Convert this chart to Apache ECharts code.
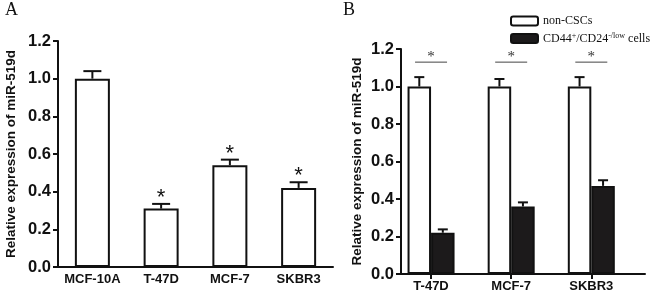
<!DOCTYPE html>
<html>
<head>
<meta charset="utf-8">
<script src="https://cdn.jsdelivr.net/npm/echarts@6/dist/echarts.min.js"></script>
<style>
  html, body { margin: 0; padding: 0; background: #fff; }
  #chart { width: 650px; height: 297px; }
</style>
</head>
<body>
<div id="chart"></div>
<script>
// panel A
const catA = ['MCF-10A', 'T-47D', 'MCF-7', 'SKBR3'];
const meanA = [1.00, 0.31, 0.54, 0.42];
const errA = [0.04, 0.025, 0.03, 0.03];
const starA = [0, 1, 1, 1];
// panel B
const catB = ['T-47D', 'MCF-7', 'SKBR3'];
const posB = [1, 2, 3];
const nonCSC = [1.00, 1.00, 1.00];
const nonCSCErr = [0.05, 0.04, 0.05];
const cd44 = [0.22, 0.36, 0.47];
const cd44Err = [0.018, 0.022, 0.03];
const sigB = [1.13, 1.13, 1.13];

const chart = echarts.init(document.getElementById('chart'));
const sans = 'Liberation Sans, Arial, sans-serif';
const serif = 'Liberation Serif, Times New Roman, serif';

// error bar (+ optional star) drawn on top of a bar
function errRender(offset, capHalf) {
  return function (params, api) {
    const x = api.value(0), v = api.value(1), e = api.value(2), star = api.value(3);
    const p0 = api.coord([x, v]);
    const p1 = api.coord([x, v + e]);
    const cx = p0[0] + offset;
    const kids = [
      { type: 'line', shape: { x1: cx, y1: p0[1], x2: cx, y2: p1[1] }, style: { stroke: '#111', lineWidth: 2 } },
      { type: 'line', shape: { x1: cx - capHalf, y1: p1[1], x2: cx + capHalf, y2: p1[1] }, style: { stroke: '#111', lineWidth: 2 } }
    ];
    if (star) {
      kids.push({ type: 'text', x: cx, y: p1[1] - 17,
        style: { text: '*', fontSize: 22, fontFamily: sans, fill: '#111', align: 'center', verticalAlign: 'top' } });
    }
    return { type: 'group', children: kids };
  };
}

function sigRender(params, api) {
  const p = api.coord([api.value(0), api.value(1)]);
  return { type: 'group', children: [
    { type: 'line', shape: { x1: p[0] - 16, y1: p[1], x2: p[0] + 16, y2: p[1] }, style: { stroke: '#444', lineWidth: 1 } },
    { type: 'text', x: p[0], y: p[1] - 13,
      style: { text: '*', fontSize: 15, fontFamily: serif, fill: '#333', align: 'center', verticalAlign: 'top' } }
  ] };
}

const yAxisCommon = {
  type: 'value', min: 0, max: 1.2, interval: 0.2,
  name: 'Relative expression of miR-519d', nameLocation: 'middle', nameRotate: 90,
  nameTextStyle: { fontFamily: sans, fontWeight: 'bold', fontSize: 13.5, color: '#111' },
  axisLine: { show: true, lineStyle: { color: '#111', width: 2 } },
  axisTick: { show: true, length: 5, lineStyle: { color: '#111', width: 2 } },
  axisLabel: { fontFamily: sans, fontWeight: 'bold', fontSize: 16.5, color: '#111', margin: 7,
    formatter: v => v.toFixed(1) },
  splitLine: { show: false }
};

const option = {
  backgroundColor: '#fff',
  animation: false,
  graphic: [
    { type: 'text', left: 5, top: 1, style: { text: 'A', fontFamily: serif, fontSize: 18, fill: '#111' } },
    { type: 'text', left: 343, top: 1, style: { text: 'B', fontFamily: serif, fontSize: 18, fill: '#111' } }
  ],
  legend: {
    orient: 'vertical', left: 505, top: 10, itemWidth: 27, itemHeight: 9, itemGap: 5,
    data: ['non-CSCs', 'CD44'],
    textStyle: { fontFamily: serif, fontSize: 12, color: '#111',
      rich: {
        n: { fontFamily: serif, fontSize: 12, color: '#111', lineHeight: 13 },
        s: { fontFamily: serif, fontSize: 8, color: '#111', verticalAlign: 'top', lineHeight: 13 }
      } },
    formatter: name => name === 'CD44'
      ? '{n|CD44}{s|+}{n|/CD24}{s|-/low}{n| cells}'
      : '{n|' + name + '}'
  },
  grid: [
    { left: 58, right: 317, top: 41, bottom: 30, outerBoundsMode: 'none' },
    { left: 401, right: 5, top: 49, bottom: 23, outerBoundsMode: 'none' }
  ],
  xAxis: [
    { type: 'category', gridIndex: 0, data: catA,
      axisLine: { lineStyle: { color: '#111', width: 2 } },
      axisTick: { alignWithLabel: true, length: 5, lineStyle: { color: '#111', width: 2 } },
      axisLabel: { interval: 0, fontFamily: sans, fontWeight: 'bold', fontSize: 13, color: '#111', margin: 6 } },
    { type: 'value', gridIndex: 1, min: 0.625, max: 3.67,
      axisLine: { lineStyle: { color: '#111', width: 2 } },
      axisTick: { customValues: posB, length: 5, lineStyle: { color: '#111', width: 2 } },
      axisLabel: { customValues: posB, fontFamily: sans, fontWeight: 'bold', fontSize: 13, color: '#111', margin: 6,
        formatter: v => catB[Math.round(v) - 1] },
      splitLine: { show: false } }
  ],
  yAxis: [
    Object.assign({ gridIndex: 0, nameGap: 40 }, yAxisCommon),
    Object.assign({ gridIndex: 1, nameGap: 37 }, yAxisCommon)
  ],
  series: [
    { type: 'bar', xAxisIndex: 0, yAxisIndex: 0, data: meanA, barWidth: 35,
      itemStyle: { color: '#fff', borderColor: '#111', borderWidth: 2 } },
    { type: 'custom', xAxisIndex: 0, yAxisIndex: 0,
      data: meanA.map((m, i) => [i, m, errA[i], starA[i]]),
      renderItem: errRender(0, 9) },
    { name: 'non-CSCs', type: 'bar', xAxisIndex: 1, yAxisIndex: 1, barWidth: 23.5, barGap: '0%',
      data: posB.map((x, i) => [x, nonCSC[i]]),
      itemStyle: { color: '#fff', borderColor: '#111', borderWidth: 2 } },
    { name: 'CD44', type: 'bar', xAxisIndex: 1, yAxisIndex: 1, barWidth: 23.5, barGap: '0%',
      data: posB.map((x, i) => [x, cd44[i]]),
      itemStyle: { color: '#1c1a1b', borderColor: '#111', borderWidth: 2 } },
    { type: 'custom', xAxisIndex: 1, yAxisIndex: 1,
      data: posB.map((x, i) => [x, nonCSC[i], nonCSCErr[i], 0]),
      renderItem: errRender(-11.75, 5) },
    { type: 'custom', xAxisIndex: 1, yAxisIndex: 1,
      data: posB.map((x, i) => [x, cd44[i], cd44Err[i], 0]),
      renderItem: errRender(11.75, 5) },
    { type: 'custom', xAxisIndex: 1, yAxisIndex: 1,
      data: posB.map((x, i) => [x, sigB[i]]),
      renderItem: sigRender }
  ]
};
chart.setOption(option);
</script>
</body>
</html>
